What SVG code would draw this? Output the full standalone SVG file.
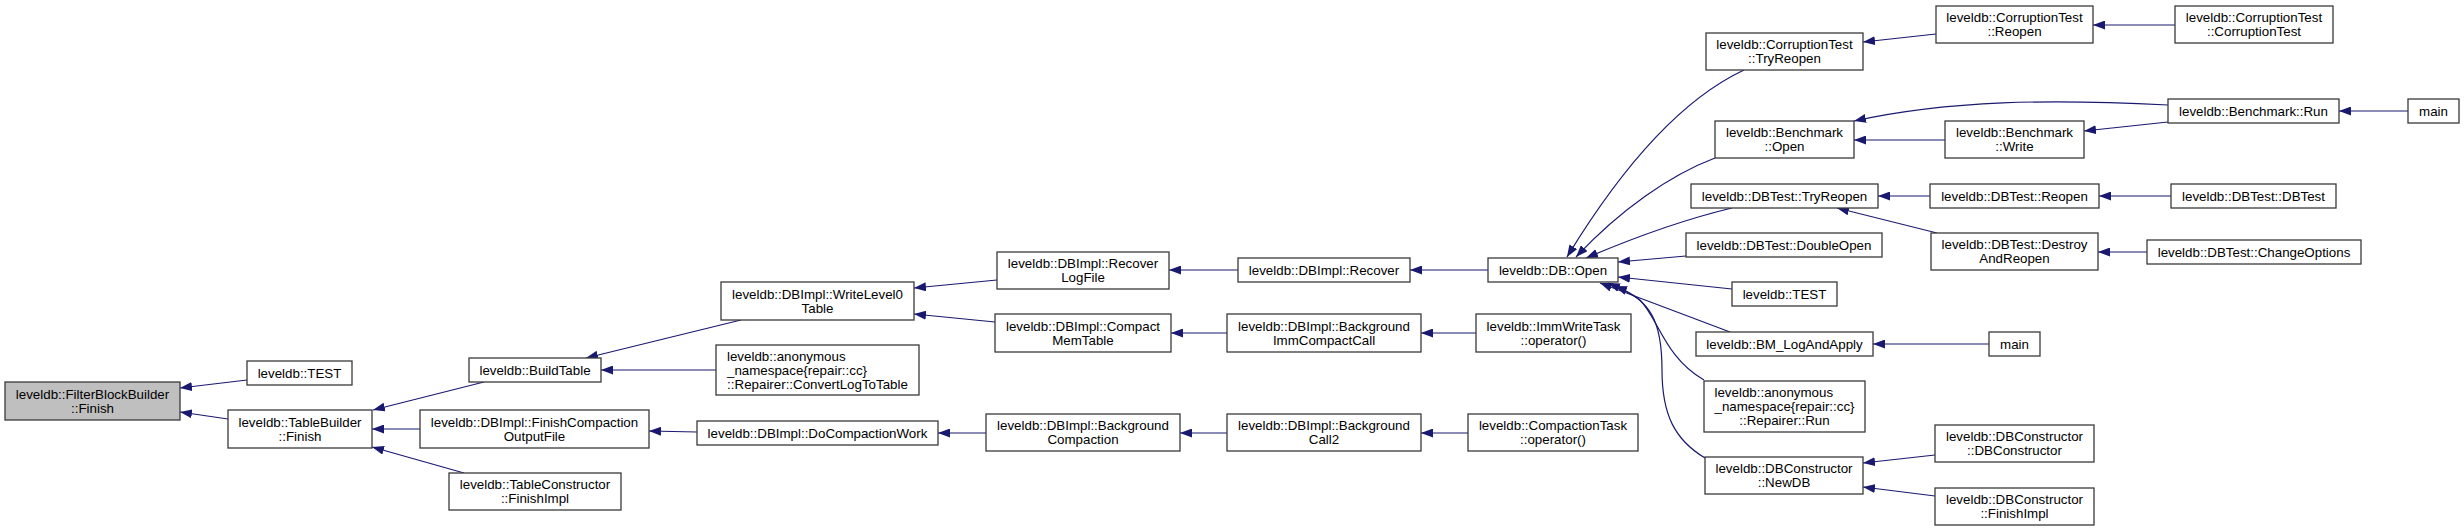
<svg xmlns="http://www.w3.org/2000/svg" width="2464" height="531" viewBox="0 0 2464 531">
<style>
.n rect{fill:#ffffff;stroke:#3a3a3a;stroke-width:1.3}
.n.hl rect{fill:#bfbfbf}
.n text{font-family:"Liberation Sans",Arial,Helvetica,sans-serif;font-size:13.33px;fill:#000;text-anchor:middle}
.n text.l{text-anchor:start}
#edges path{fill:none;stroke:#191970;stroke-width:1.2;marker-end:url(#ah)}
</style>
<defs>
<marker id="ah" viewBox="0 0 12 9" refX="12" refY="4.5" markerWidth="12" markerHeight="9" markerUnits="userSpaceOnUse" orient="auto">
<path d="M0,0 L12,4.5 L0,9 z" fill="#191970"/>
</marker>
</defs>
<rect width="2464" height="531" fill="#ffffff"/>
<g id="edges">
<path d="M247,380 L180,388"/>
<path d="M228,419 L180,412"/>
<path d="M484,382 L373,410"/>
<path d="M420,429 L372,429"/>
<path d="M464,473 L372,447"/>
<path d="M741,320 L586,358"/>
<path d="M716,370 L601,370"/>
<path d="M697,432 L649,431"/>
<path d="M997,280 L914,288"/>
<path d="M995,322 L914,314"/>
<path d="M1238,270 L1169,270"/>
<path d="M1227,333 L1171,333"/>
<path d="M986,433 L938,433"/>
<path d="M1227,433 L1180,433"/>
<path d="M1488,270 L1410,270"/>
<path d="M1476,333 L1421,333"/>
<path d="M1468,433 L1421,433"/>
<path d="M1744,70 C1680,100 1620,170 1567,257"/>
<path d="M1715,158 C1670,175 1620,210 1576,257"/>
<path d="M1732,208 C1690,218 1640,235 1586,258"/>
<path d="M1686,256 L1618,262"/>
<path d="M1732,289 L1618,277"/>
<path d="M1730,332 L1600,283"/>
<path d="M1704,380 C1665,358 1658,318 1640,300 C1630,292 1620,288 1608,283"/>
<path d="M1705,458 C1675,440 1662,415 1662,370 C1662,320 1650,300 1615,286"/>
<path d="M1936,34 L1863,42"/>
<path d="M2175,25 L2093,25"/>
<path d="M2168,105 C2050,99 1950,100 1854,121"/>
<path d="M1945,140 L1854,140"/>
<path d="M2168,122 L2084,131"/>
<path d="M2408,111 L2339,111"/>
<path d="M1930,196 L1878,196"/>
<path d="M1937,233 L1837,208"/>
<path d="M2171,196 L2099,196"/>
<path d="M2147,252 L2098,252"/>
<path d="M1989,344 L1873,344"/>
<path d="M1935,455 L1863,463"/>
<path d="M1935,496 L1863,487"/>
</g>
<g id="n_fbb" class="n hl"><rect x="5" y="382" width="175" height="38"/><text x="92.5" y="398.7">leveldb::FilterBlockBuilder</text><text x="92.5" y="412.7">::Finish</text></g>
<g id="n_test1" class="n"><rect x="247" y="361" width="105" height="24"/><text x="299.5" y="377.7">leveldb::TEST</text></g>
<g id="n_tb" class="n"><rect x="228" y="410" width="144" height="38"/><text x="300" y="426.7">leveldb::TableBuilder</text><text x="300" y="440.7">::Finish</text></g>
<g id="n_bt" class="n"><rect x="469" y="358" width="132" height="24"/><text x="535" y="374.7">leveldb::BuildTable</text></g>
<g id="n_fco" class="n"><rect x="420" y="410" width="229" height="38"/><text x="534.5" y="426.7">leveldb::DBImpl::FinishCompaction</text><text x="534.5" y="440.7">OutputFile</text></g>
<g id="n_tc" class="n"><rect x="449" y="473" width="172" height="37"/><text x="535" y="489.2">leveldb::TableConstructor</text><text x="535" y="503.2">::FinishImpl</text></g>
<g id="n_wl0" class="n"><rect x="721" y="282" width="193" height="38"/><text x="817.5" y="298.7">leveldb::DBImpl::WriteLevel0</text><text x="817.5" y="312.7">Table</text></g>
<g id="n_cl2t" class="n"><rect x="716" y="345" width="203" height="50"/><text class="l" x="727" y="360.7">leveldb::anonymous</text><text class="l" x="727" y="374.7">_namespace{repair::cc}</text><text x="817.5" y="388.7">::Repairer::ConvertLogToTable</text></g>
<g id="n_dcw" class="n"><rect x="697" y="421" width="241" height="24"/><text x="817.5" y="437.7">leveldb::DBImpl::DoCompactionWork</text></g>
<g id="n_rlf" class="n"><rect x="997" y="252" width="172" height="37"/><text x="1083" y="268.2">leveldb::DBImpl::Recover</text><text x="1083" y="282.2">LogFile</text></g>
<g id="n_cmt" class="n"><rect x="995" y="314" width="176" height="38"/><text x="1083" y="330.7">leveldb::DBImpl::Compact</text><text x="1083" y="344.7">MemTable</text></g>
<g id="n_bgc" class="n"><rect x="986" y="414" width="194" height="37"/><text x="1083" y="430.2">leveldb::DBImpl::Background</text><text x="1083" y="444.2">Compaction</text></g>
<g id="n_rec" class="n"><rect x="1238" y="258" width="172" height="24"/><text x="1324" y="274.7">leveldb::DBImpl::Recover</text></g>
<g id="n_bicc" class="n"><rect x="1227" y="314" width="194" height="38"/><text x="1324" y="330.7">leveldb::DBImpl::Background</text><text x="1324" y="344.7">ImmCompactCall</text></g>
<g id="n_bc2" class="n"><rect x="1227" y="414" width="194" height="37"/><text x="1324" y="430.2">leveldb::DBImpl::Background</text><text x="1324" y="444.2">Call2</text></g>
<g id="n_open" class="n"><rect x="1488" y="258" width="130" height="24"/><text x="1553" y="274.7">leveldb::DB::Open</text></g>
<g id="n_iwt" class="n"><rect x="1476" y="314" width="155" height="38"/><text x="1553.5" y="330.7">leveldb::ImmWriteTask</text><text x="1553.5" y="344.7">::operator()</text></g>
<g id="n_ct" class="n"><rect x="1468" y="414" width="170" height="37"/><text x="1553" y="430.2">leveldb::CompactionTask</text><text x="1553" y="444.2">::operator()</text></g>
<g id="n_ctr" class="n"><rect x="1706" y="33" width="157" height="37"/><text x="1784.5" y="49.2">leveldb::CorruptionTest</text><text x="1784.5" y="63.2">::TryReopen</text></g>
<g id="n_bo" class="n"><rect x="1715" y="121" width="139" height="37"/><text x="1784.5" y="137.2">leveldb::Benchmark</text><text x="1784.5" y="151.2">::Open</text></g>
<g id="n_dtr" class="n"><rect x="1691" y="184" width="187" height="24"/><text x="1784.5" y="200.7">leveldb::DBTest::TryReopen</text></g>
<g id="n_ddo" class="n"><rect x="1686" y="233" width="196" height="24"/><text x="1784" y="249.7">leveldb::DBTest::DoubleOpen</text></g>
<g id="n_test2" class="n"><rect x="1732" y="282" width="105" height="24"/><text x="1784.5" y="298.7">leveldb::TEST</text></g>
<g id="n_bm" class="n"><rect x="1696" y="332" width="177" height="24"/><text x="1784.5" y="348.7">leveldb::BM_LogAndApply</text></g>
<g id="n_rr" class="n"><rect x="1704" y="381" width="161" height="51"/><text class="l" x="1714.5" y="397.2">leveldb::anonymous</text><text class="l" x="1714.5" y="411.2">_namespace{repair::cc}</text><text x="1784.5" y="425.2">::Repairer::Run</text></g>
<g id="n_nd" class="n"><rect x="1705" y="457" width="158" height="37"/><text x="1784" y="473.2">leveldb::DBConstructor</text><text x="1784" y="487.2">::NewDB</text></g>
<g id="n_cr" class="n"><rect x="1936" y="6" width="157" height="37"/><text x="2014.5" y="22.2">leveldb::CorruptionTest</text><text x="2014.5" y="36.2">::Reopen</text></g>
<g id="n_bw" class="n"><rect x="1945" y="121" width="139" height="37"/><text x="2014.5" y="137.2">leveldb::Benchmark</text><text x="2014.5" y="151.2">::Write</text></g>
<g id="n_dre" class="n"><rect x="1930" y="184" width="169" height="24"/><text x="2014.5" y="200.7">leveldb::DBTest::Reopen</text></g>
<g id="n_dar" class="n"><rect x="1931" y="233" width="167" height="37"/><text x="2014.5" y="249.2">leveldb::DBTest::Destroy</text><text x="2014.5" y="263.2">AndReopen</text></g>
<g id="n_main2" class="n"><rect x="1989" y="332" width="51" height="24"/><text x="2014.5" y="348.7">main</text></g>
<g id="n_dcc" class="n"><rect x="1935" y="425" width="159" height="37"/><text x="2014.5" y="441.2">leveldb::DBConstructor</text><text x="2014.5" y="455.2">::DBConstructor</text></g>
<g id="n_dcf" class="n"><rect x="1935" y="488" width="159" height="37"/><text x="2014.5" y="504.2">leveldb::DBConstructor</text><text x="2014.5" y="518.2">::FinishImpl</text></g>
<g id="n_cc" class="n"><rect x="2175" y="6" width="158" height="37"/><text x="2254" y="22.2">leveldb::CorruptionTest</text><text x="2254" y="36.2">::CorruptionTest</text></g>
<g id="n_br" class="n"><rect x="2168" y="99" width="171" height="24"/><text x="2253.5" y="115.7">leveldb::Benchmark::Run</text></g>
<g id="n_dt" class="n"><rect x="2171" y="184" width="165" height="24"/><text x="2253.5" y="200.7">leveldb::DBTest::DBTest</text></g>
<g id="n_co" class="n"><rect x="2147" y="240" width="214" height="24"/><text x="2254" y="256.7">leveldb::DBTest::ChangeOptions</text></g>
<g id="n_main1" class="n"><rect x="2408" y="99" width="51" height="24"/><text x="2433.5" y="115.7">main</text></g>
</svg>
